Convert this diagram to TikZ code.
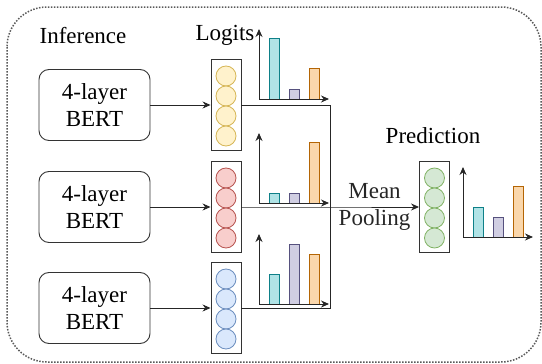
\documentclass[tikz,border=0pt]{standalone}
\usepackage{fontspec}
\setmainfont{LiberationSerif}[Extension=.ttf, UprightFont=*-Regular, BoldFont=*-Bold]
\usetikzlibrary{arrows.meta}
\definecolor{ylwfill}{HTML}{FFF2CC}
\definecolor{ylwdraw}{HTML}{D6B656}
\definecolor{redfill}{HTML}{F8CECC}
\definecolor{reddraw}{HTML}{B85450}
\definecolor{blufill}{HTML}{DAE8FC}
\definecolor{bludraw}{HTML}{6C8EBF}
\definecolor{grnfill}{HTML}{D5E8D4}
\definecolor{grndraw}{HTML}{82B366}
\definecolor{tealfill}{HTML}{B0E3E6}
\definecolor{tealdraw}{HTML}{0E8088}
\definecolor{purpfill}{HTML}{D0CEE2}
\definecolor{purpdraw}{HTML}{56517E}
\definecolor{orngfill}{HTML}{FAD7AC}
\definecolor{orngdraw}{HTML}{B46504}

\begin{document}
\begin{tikzpicture}[x=1pt,y=-1pt,
  every node/.style={font=\rmfamily\fontsize{23}{27}\selectfont, align=center},
  bert/.style={draw=black!80, rounded corners=10pt, minimum width=111pt, minimum height=71pt, inner sep=0pt, line width=0.9pt},
  logcol/.style={draw=black!80, minimum width=30pt, minimum height=91pt, inner sep=0pt, line width=0.9pt},
  ball/.style={circle, minimum size=20pt, inner sep=0pt, line width=0.8pt},
  arr/.style={-{Stealth[length=8pt,width=7pt]}, line width=0.9pt, black!85}]
\useasboundingbox (0,0) rectangle (542,364);

\draw [black!65, line width=1.5pt, dash pattern=on 1.5pt off 1.5pt, rounded corners=40pt] (7,7) rectangle (541,362);

\node (inference) at (83,36) {Inference};
\node (logits) at (225,35) {Logits};
\node (prediction) at (433,136) {Prediction};

\node[bert] (bert1) at (94.5,105) {4-layer\\BERT};
\node[bert] (bert2) at (94.5,207) {4-layer\\BERT};
\node[bert] (bert3) at (94.5,308) {4-layer\\BERT};

\node[logcol] (log1) at (226,105) {};
\node[logcol] (log2) at (226,207) {};
\node[logcol] (log3) at (226,308) {};
\node[logcol] (pred) at (434.5,207) {};

\foreach \n/\cx/\cy/\f/\d in {y/226/76/ylwfill/ylwdraw, r/226/178/redfill/reddraw, b/226/279/blufill/bludraw, g/434.5/178/grnfill/grndraw}
  \foreach \k in {1,...,4}
    \node[ball, fill=\f, draw=\d] (\n\k) at (\cx,{\cy+20*(\k-1)}) {};

% logits charts and prediction chart
\foreach \ox/\oy/\ha/\hb/\hc in {259/99/61/10/31, 259/203/10/10/61, 259/304/30/60/50, 463/237/30/20/51} {
  \filldraw [draw=tealdraw, fill=tealfill, line width=0.8pt] ({\ox+10},\oy) rectangle ({\ox+20},{\oy-\ha});
  \filldraw [draw=purpdraw, fill=purpfill, line width=0.8pt] ({\ox+30},\oy) rectangle ({\ox+40},{\oy-\hb});
  \filldraw [draw=orngdraw, fill=orngfill, line width=0.8pt] ({\ox+50},\oy) rectangle ({\ox+60},{\oy-\hc});
  \draw [arr] (\ox,\oy) -- (\ox,{\oy-70});
  \draw [arr] (\ox,\oy) -- ({\ox+70},\oy);
}

\draw [arr] (bert1.east) -- (log1.west);
\draw [arr] (bert2.east) -- (log2.west);
\draw [arr] (bert3.east) -- (log3.west);

\coordinate (join) at (330,207);
\draw [line width=0.9pt, black!85] (log1.east) -| (join);
\draw [line width=0.9pt, black!85] (log3.east) -| (join);
\draw [arr] (log2.east) -- (join) -- node (pool) {Mean\\Pooling} (pred.west);

\end{tikzpicture}
\end{document}
